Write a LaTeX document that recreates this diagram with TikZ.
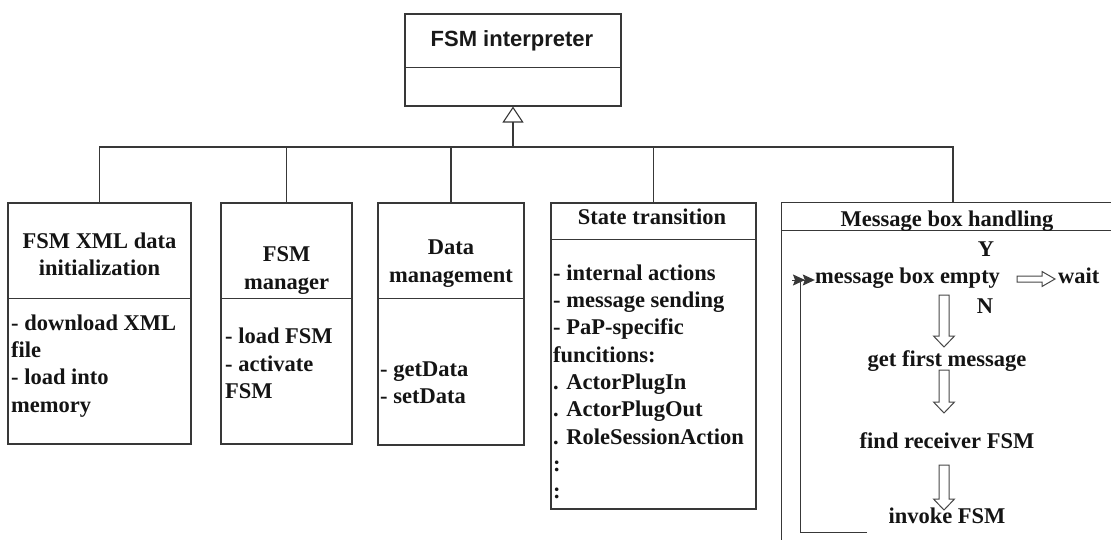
\documentclass[tikz,border=0pt]{standalone}
\usepackage{fontspec}
\setmainfont{Liberation Serif}
\newfontfamily\headsans{Liberation Sans}
\usetikzlibrary{arrows.meta}
\begin{document}
\begin{tikzpicture}[x=1pt,y=-1pt,
  line/.style={draw=black!78, line width=1.1pt},
  box/.style={line, rectangle, inner sep=0pt},
  txt/.style={font=\fontsize{22.5}{27.3}\selectfont\bfseries, inner sep=0pt, text=black!92},
  body/.style={txt, align=left, anchor=north west},
  head/.style={txt, align=center, anchor=north},
  one/.style={txt, anchor=base},
  blk/.style={draw=black!72, line width=1pt, fill=white},
  tip/.style={-{Stealth[length=12pt,width=11pt,inset=2pt]}},
  pics/downblk/.style={code={\draw[blk] (-5,0) -- (5,0) -- (5,#1-11) -- (10.5,#1-11) -- (0,#1) -- (-10.5,#1-11) -- (-5,#1-11) -- cycle;}},
  pics/rightblk/.style={code={\draw[blk] (0,-3) -- (#1-13,-3) -- (#1-13,-7.5) -- (#1,0) -- (#1-13,7.5) -- (#1-13,3) -- (0,3) -- cycle;}},
]
\useasboundingbox (0,0) rectangle (1111,540);
\clip (0,0) rectangle (1111,540);

% top class
\node[box, minimum width=216pt, minimum height=92pt] (top) at (513,60) {};
\draw[line] ([yshift=-54pt]top.north west) -- ([yshift=-54pt]top.north east);
\node[anchor=base, inner sep=0pt, font=\headsans\bfseries\fontsize{22}{26}\selectfont, text=black!90] (toptxt) at (512,46.7) {FSM interpreter};

% boxes
\node[box, minimum width=183pt, minimum height=241pt] (b1) at (99.5,323.5) {};
\node[box, minimum width=131pt, minimum height=241pt] (b2) at (286.5,323.5) {};
\node[box, minimum width=146pt, minimum height=242pt] (b3) at (451,324) {};
\node[box, minimum width=205pt, minimum height=306pt] (b4) at (653.5,356) {};
\node[inner sep=0pt, minimum width=342pt, minimum height=354pt] (b5) at (953,380) {};
\draw[line] (b5.south west) -- (b5.north west) -- (b5.north east);

\draw[line] ([yshift=-96pt]b1.north west) -- ([yshift=-96pt]b1.north east);
\draw[line] ([yshift=-96pt]b2.north west) -- ([yshift=-96pt]b2.north east);
\draw[line] ([yshift=-96pt]b3.north west) -- ([yshift=-96pt]b3.north east);
\draw[line] ([yshift=-37pt]b4.north west) -- ([yshift=-37pt]b4.north east);
\draw[line] ([yshift=-28pt]b5.north west) -- ([yshift=-28pt]b5.north east);

% inheritance connectors
\coordinate (bus) at (513,147);
\foreach \b in {b1,b2,b3,b4,b5} \draw[line] (\b.north) |- (bus);
\draw[line, -{Triangle[open, length=16pt, width=21pt]}] (bus) -- (top.south);

% headers
\node[head] (h1) at (99.5,232.6) {FSM XML data\\initialization};
\node[head] (h2) at (286.5,246.8) {FSM\\manager};
\node[head] (h3) at (451,240) {Data\\management};
\node[one] (h4) at (652,225) {State transition};
\node[one] (h5) at (947,226.7) {Message box handling};

% bodies
\node[body] (t1) at (11,314.5) {- download XML\\file\\- load into\\memory};
\node[body] (t2) at (225,328) {- load FSM\\- activate\\FSM};
\node[body] (t3) at (380,361.5) {- getData\\- setData};
\node[body] (t4) at (553,264.5) {- internal actions\\- message sending\\- PaP-specific\\funcitions:\\. ActorPlugIn\\. ActorPlugOut\\. RoleSessionAction\\:\\:};

% message box handling flow
\node[one] (y) at (986,256.7) {Y};
\node[one] (mbe) at (907.5,283) {message box empty};
\node[txt, anchor=base west] (wait) at (1058,283) {wait};
\node[one] (n) at (985,313) {N};
\node[one] (gfm) at (947,366.7) {get first message};
\node[one] (frf) at (947,448) {find receiver FSM};
\node[one] (inv) at (947,523) {invoke FSM};

\pic at (1017,279) {rightblk=38};
\pic at (944,295) {downblk=52};
\pic at (944,370) {downblk=43};
\pic at (944,465) {downblk=45};

\coordinate (lp) at (867,532);
\coordinate (corner) at (800,280);
\draw[line, line width=1pt, tip] (lp) -- (lp -| corner) -- (corner) -- ([yshift=3pt]mbe.base west);
\draw[line, line width=1pt, tip] ([xshift=-8pt]corner) -- ([xshift=5pt]corner);
\end{tikzpicture}
\end{document}
